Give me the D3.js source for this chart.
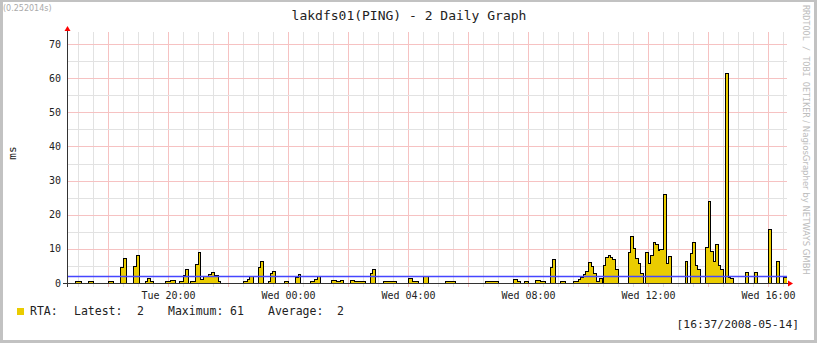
<!DOCTYPE html>
<html>
<head>
<meta charset="utf-8">
<script src="https://cdn.jsdelivr.net/npm/d3@7"></script>
<style>
  body { margin: 0; background: #fff; }
  svg { display: block; }
</style>
</head>
<body>
<div class="graph"></div>
<script>

// DATA ------------------------------------

const title = "lakdfs01(PING) - 2 Daily Graph";
const runTime = "(0.252014s)";
const stamp = "[16:37/2008-05-14]";

const startTime = new Date(2008, 4, 13, 16, 38);
const endTime = new Date(2008, 4, 14, 16, 38);

// minutes after startTime where RTA changes
const stepMinutes = [
  0, 16, 28, 42, 52, 82, 92, 106, 112, 118,
  132, 138, 144, 156, 160, 166, 172, 196, 206, 216,
  224, 232, 236, 242, 246, 256, 262, 266, 272, 282,
  288, 294, 302, 306, 352, 360, 364, 372, 382, 386,
  392, 402, 406, 410, 416, 434, 442, 456, 462, 466,
  486, 494, 500, 503, 506, 528, 538, 546, 552, 566,
  574, 586, 596, 606, 611, 616, 632, 642, 658, 682,
  690, 702, 712, 722, 756, 776, 836, 846, 862, 892,
  900, 906, 914, 922, 936, 946, 956, 966, 971, 976,
  986, 996, 1012, 1018, 1022, 1026, 1032, 1036, 1042, 1048,
  1052, 1058, 1064, 1070, 1072, 1077, 1083, 1087, 1091, 1096,
  1103, 1122, 1127, 1133, 1137, 1143, 1147, 1153, 1157, 1162,
  1167, 1173, 1177, 1182, 1185, 1193, 1198, 1203, 1208, 1236,
  1241, 1246, 1251, 1257, 1261, 1266, 1277, 1282, 1287, 1293,
  1297, 1303, 1306, 1313, 1317, 1323, 1327, 1333, 1356, 1362,
  1374, 1380, 1402, 1408, 1418, 1424, 1433
];

// RTA in ms from that minute on
const rtaValues = [
  0, 0.4, 0, 0.5, 0, 0.5, 0, 4.6, 7.3, 0,
  4.9, 8.0, 0, 0.5, 1.3, 0.5, 0, 0.4, 0.6, 0,
  0.5, 2.3, 4.1, 0, 0.5, 5.5, 9.0, 1.0, 1.8, 2.4,
  3.1, 2.3, 0.5, 0, 0.5, 1.0, 2.0, 0, 4.6, 6.4,
  0, 0.5, 2.9, 3.3, 0, 0.5, 0, 1.5, 2.6, 0,
  0.5, 1.0, 1.8, 2.0, 0, 0.6, 0.5, 0.6, 0, 0.6,
  0.4, 0.5, 0, 2.8, 3.9, 0, 0.5, 0.4, 0, 1.3,
  0.5, 0, 2.0, 0, 0.5, 0, 0.4, 0.5, 0, 1.0,
  0.5, 0, 0.5, 0, 0.6, 0.4, 0, 4.4, 6.8, 0,
  0.5, 0, 0.3, 0.5, 1.0, 1.7, 2.4, 3.4, 5.9, 4.7,
  2.9, 0.5, 1.2, 0, 5.1, 7.6, 8.0, 7.6, 6.8, 3.9,
  0, 8.8, 13.5, 10.0, 7.1, 5.6, 2.9, 0, 8.8, 5.7,
  8.0, 12.0, 11.3, 9.6, 9.8, 26.0, 5.7, 7.8, 0, 6.4,
  0, 8.6, 12.0, 5.1, 4.1, 0, 10.3, 23.8, 9.3, 6.4,
  11.2, 5.2, 4.1, 0, 61.3, 1.5, 1.2, 0, 3.1, 0,
  3.1, 0, 15.8, 0, 6.4, 0, 1.6
];

const avgValue = 1.9;
const yTicks = [0, 10, 20, 30, 40, 50, 60, 70];
const legendParts = ["RTA:", "Latest:", "2", "Maximum:", "61", "Average:", "2"];


// CHART INIT ------------------------------

const W = 817, H = 343;
const plot = {left: 67, right: 787, top: 33, bottom: 283};
const mono = "'DejaVu Sans Mono', monospace";

const svg = d3.select(".graph").append("svg")
  .attr("width", W)
  .attr("height", H);

// frame
svg.append("rect").attr("width", W).attr("height", H).attr("fill", "#c2c2c2");
svg.append("rect")
  .attr("x", 3).attr("y", 2)
  .attr("width", W - 6).attr("height", H - 5)
  .attr("fill", "#fff");

const xScale = d3.scaleTime()
  .domain([startTime, endTime])
  .range([plot.left, plot.right]);

const yScale = d3.scaleLinear()
  .domain([0, 70])
  .range([plot.bottom, 44]);

const px = v => Math.round(v) + 0.5;

// grid
const grid = svg.append("g").attr("class", "grid").attr("shape-rendering", "crispEdges");

grid.selectAll(".vminor")
  .data(xScale.ticks(d3.timeMinute.every(30)))
  .join("line")
  .attr("x1", d => px(xScale(d))).attr("x2", d => px(xScale(d)))
  .attr("y1", plot.top - 1).attr("y2", plot.bottom + 4)
  .attr("stroke", d => d.getHours() % 2 == 0 && d.getMinutes() == 0 ? "#f6c2c2" : "#e2e2e2");

grid.selectAll(".hminor")
  .data(d3.range(5, 75, 5))
  .join("line")
  .attr("x1", plot.left).attr("x2", plot.right)
  .attr("y1", d => px(yScale(d))).attr("y2", d => px(yScale(d)))
  .attr("stroke", d => d % 10 == 0 ? "#f6c2c2" : "#e2e2e2");

// data
const rows = d3.zip(stepMinutes, rtaValues).map(([m, v]) => ({
  time: new Date(+startTime + m * 60000),
  value: v
}));
rows.push({time: endTime, value: rtaValues[rtaValues.length - 1]});

const area = d3.area()
  .curve(d3.curveStepAfter)
  .x(d => xScale(d.time))
  .y0(yScale(0))
  .y1(d => yScale(d.value));

const line = d3.line()
  .curve(d3.curveStepAfter)
  .x(d => xScale(d.time))
  .y(d => yScale(d.value));

svg.append("path")
  .datum(rows)
  .attr("d", area)
  .attr("fill", "#eacc00")
  .attr("shape-rendering", "crispEdges");

svg.append("path")
  .datum(rows)
  .attr("d", line)
  .attr("fill", "none")
  .attr("stroke", "#000")
  .attr("stroke-width", 1)
  .attr("shape-rendering", "crispEdges");

// average rule
svg.append("line")
  .attr("x1", plot.left).attr("x2", plot.right)
  .attr("y1", yScale(avgValue)).attr("y2", yScale(avgValue))
  .attr("stroke", "#4646ff")
  .attr("stroke-width", 1.5);

// axes
svg.append("line")
  .attr("x1", px(plot.left)).attr("x2", px(plot.left))
  .attr("y1", plot.top - 4).attr("y2", plot.bottom + 4)
  .attr("stroke", "#333").attr("shape-rendering", "crispEdges");

svg.append("line")
  .attr("x1", plot.left - 4).attr("x2", plot.right + 1)
  .attr("y1", px(plot.bottom)).attr("y2", px(plot.bottom))
  .attr("stroke", "#333").attr("shape-rendering", "crispEdges");

svg.append("path")
  .attr("d", `M${plot.left + 0.5 - 3},${plot.top - 2}L${plot.left + 0.5 + 3},${plot.top - 2}L${plot.left + 0.5},${plot.top - 7}Z`)
  .attr("fill", "#f00");

svg.append("path")
  .attr("d", `M${plot.right + 1},${plot.bottom + 0.5 - 3}L${plot.right + 1},${plot.bottom + 0.5 + 3}L${plot.right + 6},${plot.bottom + 0.5}Z`)
  .attr("fill", "#f00");

// tick labels
svg.selectAll(".y-label")
  .data(yTicks)
  .join("text")
  .attr("x", 61)
  .attr("y", d => yScale(d) + 3.5)
  .attr("text-anchor", "end")
  .attr("font-family", mono)
  .attr("font-size", 10)
  .attr("fill", "#222")
  .text(d => d);

const fmt = d3.timeFormat("%a %H:%M");
svg.selectAll(".x-label")
  .data(xScale.ticks(d3.timeHour.every(4)))
  .join("text")
  .attr("x", d => xScale(d) + 0.5)
  .attr("y", 298.5)
  .attr("text-anchor", "middle")
  .attr("font-family", mono)
  .attr("font-size", 10)
  .attr("fill", "#222")
  .text(fmt);

// titles
svg.append("text")
  .attr("x", 409).attr("y", 20)
  .attr("text-anchor", "middle")
  .attr("font-family", mono)
  .attr("font-size", 13)
  .attr("fill", "#222")
  .text(title);

svg.append("text")
  .attr("x", 3).attr("y", 11)
  .attr("font-family", "'DejaVu Sans', sans-serif")
  .attr("font-size", 8)
  .attr("fill", "#aaa")
  .text(runTime);

svg.append("text")
  .attr("transform", "translate(16,153) rotate(-90)")
  .attr("text-anchor", "middle")
  .attr("font-family", mono)
  .attr("font-size", 11)
  .attr("fill", "#222")
  .text("ms");

const side = svg.append("text")
  .attr("transform", "translate(803,5) rotate(90)")
  .attr("font-size", 8.5)
  .attr("fill", "#bdbdbd");
side.append("tspan").attr("font-family", mono).text("RRDTOOL / TOBI OETIKER");
side.append("tspan").attr("font-family", "'DejaVu Sans', sans-serif").text(" / NagiosGrapher by NETWAYS GMBH");

// legend
svg.append("rect")
  .attr("x", 17).attr("y", 308)
  .attr("width", 7).attr("height", 7)
  .attr("fill", "#eacc00");

const legendX = [30, 74, 137, 168, 230, 268, 337];
svg.selectAll(".legend")
  .data(legendParts)
  .join("text")
  .attr("x", (d, i) => legendX[i])
  .attr("y", 315)
  .attr("font-family", mono)
  .attr("font-size", 11.5)
  .attr("fill", "#222")
  .text(d => d);

svg.append("text")
  .attr("x", 799).attr("y", 327.5)
  .attr("text-anchor", "end")
  .attr("font-family", mono)
  .attr("font-size", 11.3)
  .attr("fill", "#222")
  .text(stamp);

</script>
</body>
</html>
